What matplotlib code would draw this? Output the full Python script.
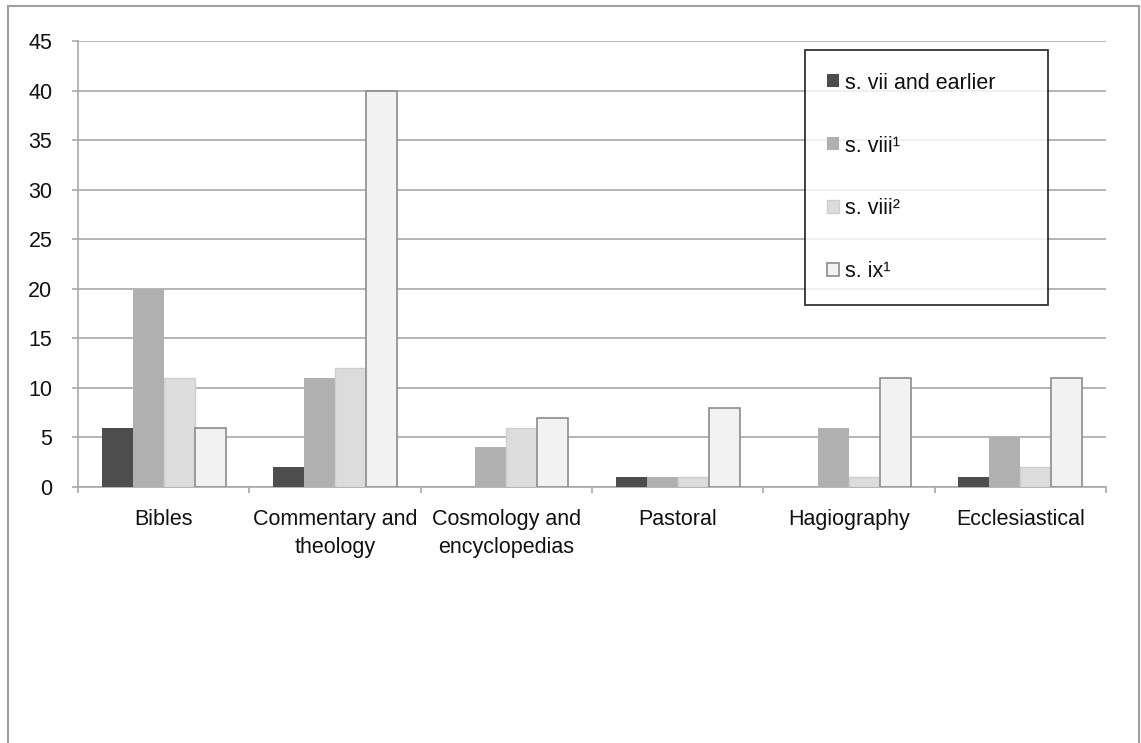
import numpy as np
import matplotlib
matplotlib.use('Agg')
import matplotlib.pyplot as plt
import matplotlib.patches as patches
from matplotlib.ticker import FixedLocator

plt.rcParams['font.family'] = ['Liberation Sans', 'DejaVu Sans']

#categories and series
categories = ['Bibles', 'Commentary and\ntheology', 'Cosmology and\nencyclopedias',
              'Pastoral', 'Hagiography', 'Ecclesiastical']
series = ['s. vii and earlier', 's. viii\u00b9', 's. viii\u00b2', 's. ix\u00b9']
s_vii = [6, 2, 0, 1, 0, 1]
s_viii1 = [20, 11, 4, 1, 6, 5]
s_viii2 = [11, 12, 6, 1, 1, 2]
s_ix1 = [6, 40, 7, 8, 11, 11]
yticks = list(range(0, 50, 5))

facecols = ['#4d4d4d', '#b0b0b0', '#dcdcdc', '#f2f2f2']
edgecols = ['#4d4d4d', '#b0b0b0', '#cfcfcf', '#8c8c8c']
linew = [0, 0, 1.0, 1.2]
gridcol = '#a8a8a8'
fsize = 15.5

fig = plt.figure(figsize=(11.41, 7.43), dpi=100)
ax = fig.add_axes([78/1141, 1-487/743, 1028/1141, 446/743])

x = np.arange(len(categories))
w = 0.181
for i, vals in enumerate([s_vii, s_viii1, s_viii2, s_ix1]):
    ax.bar(x + (i-1.5)*w, vals, width=w, color=facecols[i], edgecolor=edgecols[i],
           linewidth=linew[i], label=series[i], zorder=3)

ax.set_xlim(-0.5, len(categories)-0.5)
ax.set_ylim(0, 45)
ax.set_yticks(yticks)
ax.yaxis.grid(True, color=gridcol, linewidth=1.2, zorder=0)
ax.set_axisbelow(True)

ax.set_xticks(x)
ax.set_xticklabels(categories, fontsize=fsize, color='#111111', linespacing=1.4)
ax.xaxis.set_minor_locator(FixedLocator(np.arange(-0.5, len(categories), 1.0)))
ax.tick_params(axis='x', which='major', length=0, pad=16)
ax.tick_params(axis='x', which='minor', length=4.5, width=1.2, color=gridcol, direction='out')
ax.tick_params(axis='y', length=4.5, width=1.2, color=gridcol, pad=14, labelsize=fsize,
               labelcolor='#111111')

for s in ['top', 'right']:
    ax.spines[s].set_visible(False)
for s in ['left', 'bottom']:
    ax.spines[s].set_color(gridcol)
    ax.spines[s].set_linewidth(1.2)

leg = ax.legend(loc='upper left', bbox_to_anchor=(0.707, 0.98, 0.2365, 0), mode='expand',
                fontsize=fsize, frameon=True, fancybox=False, edgecolor='black',
                borderpad=1.05, labelspacing=1.95, handlelength=0.55, handleheight=0.55,
                handletextpad=0.25, borderaxespad=0)
leg.get_frame().set_linewidth(1.3)
leg.set_zorder(5)
for t in leg.get_texts():
    t.set_color('#111111')

# grey outer frame of the original chart area
fig.patches.append(patches.Rectangle((8/1141, -0.1), 1131/1141, 1.1-6/743,
                                     transform=fig.transFigure, fill=False,
                                     edgecolor='#a0a0a0', linewidth=1.5))

fig.savefig('out.png', dpi=100)
